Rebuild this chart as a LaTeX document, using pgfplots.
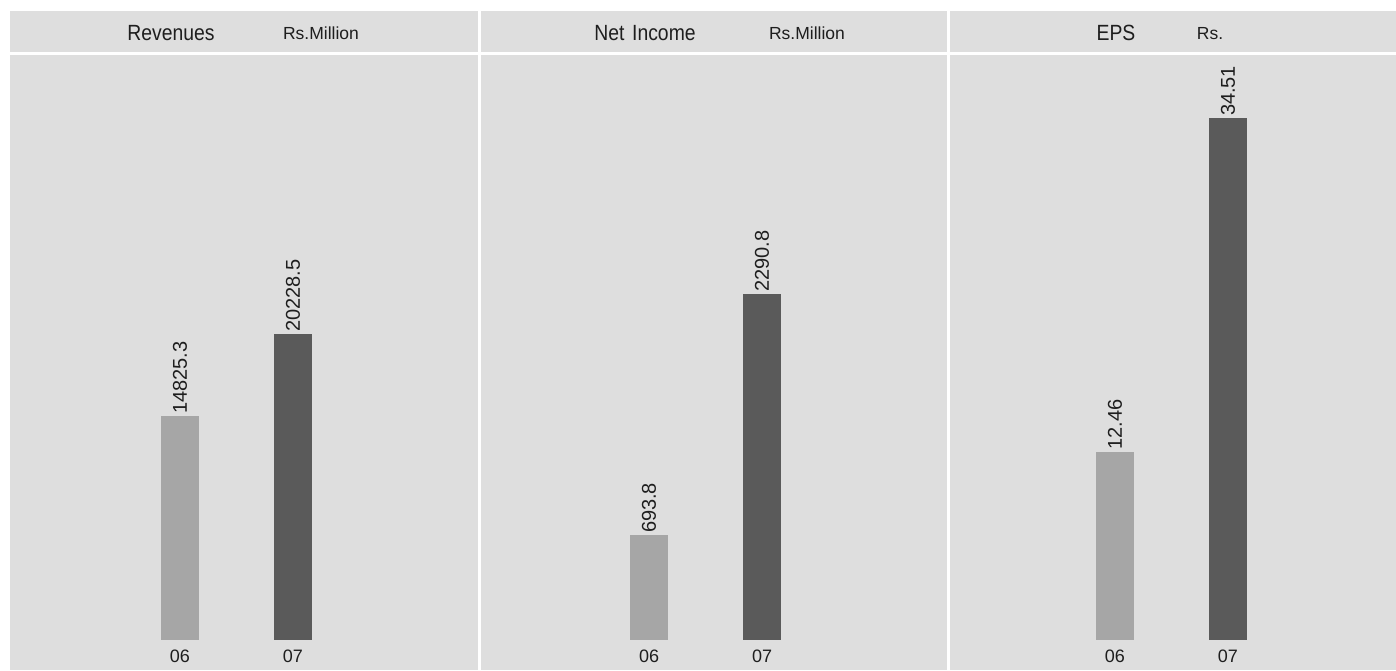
\documentclass[border=0pt]{standalone}
\usepackage{pgfplots}
\pgfplotsset{compat=1.18}
\usepackage{fontspec}
\setmainfont{Liberation Sans}
\newfontfamily\hdrfont[FakeStretch=0.88]{Liberation Sans}
\definecolor{panel}{HTML}{DEDEDE}
\definecolor{lightbar}{HTML}{A6A6A6}
\definecolor{darkbar}{HTML}{5A5A5A}
\definecolor{txt}{HTML}{1E1E1E}
\pgfplotsset{
 panelstyle/.style={
  scale only axis, anchor=south west, height=615pt,
  axis background/.style={fill=panel},
  axis line style={draw=none},
  major tick length=0pt,
  ytick=\empty, xtick={0,1}, xticklabels={06,07},
  xticklabel style={anchor=center, yshift=14pt, font=\fontsize{18}{20}\selectfont, text=txt},
  ybar, bar width=38pt,
  point meta=explicit symbolic,
  nodes near coords={\pgfplotspointmeta},
  every node near coord/.append style={rotate=90, anchor=west, font=\fontsize{20}{22}\selectfont, text=txt, inner sep=2pt},
  clip=false,
 },
 lb/.style={fill=lightbar, draw=none, bar shift=0pt},
 db/.style={fill=darkbar, draw=none, bar shift=0pt},
}
\begin{document}
\begin{tikzpicture}[x=1pt,y=1pt]
\useasboundingbox (0,0) rectangle (1396,670);
\fill[white] (0,0) rectangle (1396,670);
% header cells
\fill[panel] (10,618) rectangle (478,659);
\fill[panel] (481,618) rectangle (947,659);
\fill[panel] (950,618) rectangle (1396,659);
\node[font=\hdrfont\fontsize{22}{26}\selectfont, text=txt, anchor=base, inner sep=0pt] at (171,629) {Revenues};
\node[font=\fontsize{17.5}{20}\selectfont, text=txt, anchor=base, inner sep=0pt] at (321,630) {Rs.Million};
\node[font=\hdrfont\fontsize{22}{26}\selectfont, text=txt, anchor=base, inner sep=0pt] at (645,629) {Net\hspace{0.35em}Income};
\node[font=\fontsize{17.5}{20}\selectfont, text=txt, anchor=base, inner sep=0pt] at (807,630) {Rs.Million};
\node[font=\hdrfont\fontsize{22}{26}\selectfont, text=txt, anchor=base, inner sep=0pt] at (1116,629) {EPS};
\node[font=\fontsize{17.5}{20}\selectfont, text=txt, anchor=base, inner sep=0pt] at (1210,630) {Rs.};
% Revenues
\begin{axis}[panelstyle, at={(10pt,0pt)}, width=468pt,
  xmin=-1.504, xmax=2.637, ymin=-1984, ymax=38690]
\addplot[lb] coordinates {(0,14825.3) [14825.3]};
\addplot[db] coordinates {(1,20228.5) [20228.5]};
\end{axis}
% Net Income
\begin{axis}[panelstyle, at={(481pt,0pt)}, width=466pt,
  xmin=-1.487, xmax=2.637, ymin=-198.5, ymax=3871.6]
\addplot[lb] coordinates {(0,693.8) [693.8]};
\addplot[db] coordinates {(1,2290.8) [2290.8]};
\end{axis}
% EPS
\begin{axis}[panelstyle, at={(950pt,0pt)}, width=446pt,
  xmin=-1.460, xmax=2.487, ymin=-1.984, ymax=38.69]
\addplot[lb] coordinates {(0,12.46) [12.46]};
\addplot[db] coordinates {(1,34.51) [34.51]};
\end{axis}
\end{tikzpicture}
\end{document}
